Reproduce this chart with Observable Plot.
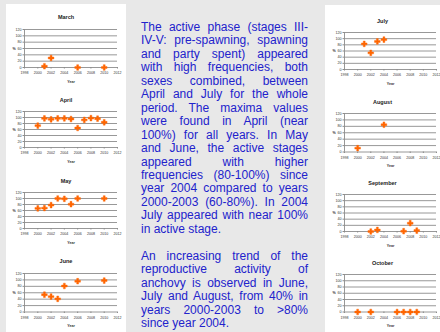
<!DOCTYPE html>
<html><head><meta charset="utf-8">
<script src="https://cdn.jsdelivr.net/npm/d3@7"></script>
<script src="https://cdn.jsdelivr.net/npm/@observablehq/plot@0.6"></script>
<style>
html,body{margin:0;padding:0;}
body{width:440px;height:332px;background:#e8e8e8;position:relative;overflow:hidden;font-family:"Liberation Sans",Arial,sans-serif;}
.panel{position:absolute;background:#fff;}
.chart{position:absolute;}
.ttl{position:absolute;font-weight:bold;font-size:5.5px;line-height:6px;color:#222;text-align:center;}
.txt{position:absolute;left:141px;top:21px;width:167px;color:#2222cc;font-size:12px;line-height:13.45px;}
.txt div{text-align:justify;text-align-last:justify;}
.txt div.last{text-align:left;text-align-last:left;}
</style></head>
<body>
<div class="panel" style="left:6px;top:4px;width:120px;height:328px"></div>
<div class="panel" style="left:325px;top:5px;width:115px;height:327px"></div>
<div class="txt" id="txt"></div>
<script>
// ---- data ----
const yearTicks = [1998, 2000, 2002, 2004, 2006, 2008, 2010, 2012];
const pctTicks = [0, 20, 40, 60, 80, 100, 120];

const months = ["March", "April", "May", "June", "July", "August", "September", "October"];

const marchYears = [2001, 2002, 2006, 2010];
const marchPct   = [4, 30, 0, 0];
const aprilYears = [2000, 2001, 2002, 2003, 2004, 2005, 2006, 2007, 2008, 2009, 2010];
const aprilPct   = [73, 97, 94, 97, 97, 95, 65, 92, 98, 96, 84];
const mayYears   = [2000, 2001, 2002, 2003, 2004, 2005, 2006, 2010];
const mayPct     = [67, 68, 78, 100, 99, 81, 100, 100];
const juneYears  = [2001, 2002, 2003, 2004, 2006, 2010];
const junePct    = [54, 48, 41, 81, 96, 98];
const julyYears  = [2001, 2002, 2003, 2004];
const julyPct    = [83, 54, 91, 97];
const augustYears = [2000, 2004];
const augustPct   = [12, 85];
const septemberYears = [2002, 2003, 2007, 2008, 2009];
const septemberPct   = [0, 5, 1, 27, 3];
const octoberYears = [2000, 2002, 2006, 2007, 2008, 2009];
const octoberPct   = [0, 0, 0, 0, 0, 0];

const para1 = [
  "The active phase (stages III-",
  "IV-V: pre-spawning, spawning",
  "and party spent) appeared",
  "with high frequencies, both",
  "sexes combined, between",
  "April and July for the whole",
  "period. The maxima values",
  "were found in April (near",
  "100%) for all years. In May",
  "and June, the active stages",
  "appeared with higher",
  "frequencies (80-100%) since",
  "year 2004 compared to years",
  "2000-2003 (60-80%). In 2004",
  "July appeared with near 100%",
  "in active stage."
];
const para2 = [
  "An increasing trend of the",
  "reproductive activity of",
  "anchovy is observed in June,",
  "July and August, from 40% in",
  "years 2000-2003 to >80%",
  "since year 2004."
];

// ---- text ----
const txt = document.getElementById("txt");
function addPara(lines) {
  lines.forEach((l, i) => {
    const d = document.createElement("div");
    d.textContent = l;
    if (i === lines.length - 1) d.className = "last";
    txt.appendChild(d);
  });
}
addPara(para1);
const sp = document.createElement("div"); sp.innerHTML = "&nbsp;"; txt.appendChild(sp);
addPara(para2);

// ---- layout ----
const colL = {x0: 24, x1: 117, px: 6, pw: 120};
const colR = {x0: 344, x1: 436, px: 325, pw: 115};
const layout = [
  {col: colL, ty: 17,  y0: 29,    y1: 67},
  {col: colL, ty: 100, y0: 111,   y1: 147},
  {col: colL, ty: 181, y0: 192,   y1: 228},
  {col: colL, ty: 261, y0: 272.5, y1: 311},
  {col: colR, ty: 21,  y0: 32,    y1: 69},
  {col: colR, ty: 102, y0: 112.5, y1: 151},
  {col: colR, ty: 183, y0: 194,   y1: 231},
  {col: colR, ty: 263, y0: 274,   y1: 311.5}
];
const series = [
  [marchYears, marchPct], [aprilYears, aprilPct], [mayYears, mayPct], [juneYears, junePct],
  [julyYears, julyPct], [augustYears, augustPct], [septemberYears, septemberPct], [octoberYears, octoberPct]
];

const grid = "#8c8c8c";
const font = "Liberation Sans, Arial, sans-serif";

series.forEach(([yrs, pct], i) => {
  const L = layout[i], c = L.col;
  const mL = 18, mR = 4, mT = 4, mB = 20;
  const w = c.x1 - c.x0 + mL + mR, h = L.y1 - L.y0 + mT + mB;
  const data = yrs.map((y, k) => ({year: y, pct: pct[k]}));
  const svg = Plot.plot({
    width: w, height: h,
    marginLeft: mL, marginRight: mR, marginTop: mT, marginBottom: mB,
    style: {background: "transparent", fontFamily: font, overflow: "visible", color: "#333"},
    x: {domain: [1998, 2012]},
    y: {domain: [0, 120]},
    marks: [
      Plot.gridY(pctTicks, {stroke: grid, strokeOpacity: 1, strokeWidth: 0.9}),
      Plot.ruleX([1998], {stroke: grid, strokeWidth: 0.9}),
      Plot.axisY(pctTicks, {fontSize: 3.6, tickSize: 1.5, tickPadding: 1.5, stroke: grid, label: null}),
      Plot.axisX(yearTicks, {fontSize: 3.6, tickSize: 1.5, tickPadding: 2.5, stroke: grid, tickFormat: d => String(d), label: null}),
      Plot.text(["Year"], {frameAnchor: "bottom", dy: 15, fontSize: 3.6, fontWeight: "bold", fill: "#333"}),
      Plot.text(["%"], {frameAnchor: "left", dx: -12, fontSize: 3.6, fontWeight: "bold", fill: "#333"}),
      Plot.dot(data, {x: "year", y: "pct", symbol: "cross", r: 2.4, fill: "#ff6600", stroke: "#ff6600", strokeWidth: 0.4})
    ]
  });
  svg.classList.add("chart");
  svg.style.left = (c.x0 - mL) + "px";
  svg.style.top = (L.y0 - mT) + "px";
  document.body.appendChild(svg);
  const t = document.createElement("div");
  t.className = "ttl";
  t.textContent = months[i];
  t.style.left = c.px + "px";
  t.style.width = c.pw + "px";
  t.style.top = (L.ty - 3) + "px";
  document.body.appendChild(t);
});
</script>
</body></html>
